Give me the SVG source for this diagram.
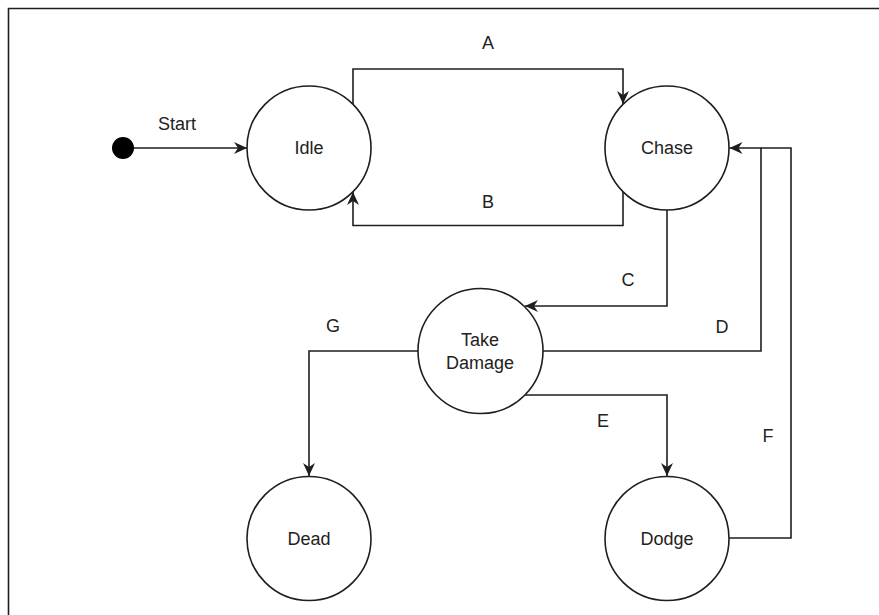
<svg xmlns="http://www.w3.org/2000/svg" width="879" height="615" viewBox="0 0 879 615">
  <style>
    .state { fill: #ffffff; stroke: #1e1e1e; stroke-width: 1.6; }
    .edge { fill: none; stroke: #1e1e1e; stroke-width: 1.6; }
    .label { font-family: "Liberation Sans", Arial, sans-serif; font-size: 18px; fill: #222222; text-anchor: middle; }
  </style>
  <defs>
    <marker id="arrow" markerUnits="userSpaceOnUse" markerWidth="14" markerHeight="12" viewBox="0 0 14 12" refX="13" refY="6" orient="auto">
      <path d="M0,0 L13,6 L0,12 L4,6 z" fill="#1e1e1e"/>
    </marker>
  </defs>

  <rect width="879" height="615" fill="#ffffff"/>
  <!-- page frame -->
  <path d="M8.5,615 V8.5 H879" fill="none" stroke="#1e1e1e" stroke-width="1.6"/>

  <g id="connectors">
    <path class="edge" d="M134,148 H247" marker-end="url(#arrow)"/>
    <path class="edge" d="M353,104 V69 H623 V104" marker-end="url(#arrow)"/>
    <path class="edge" d="M623,192 V225.5 H353 V192" marker-end="url(#arrow)"/>
    <path class="edge" d="M667,210 V306 H525" marker-end="url(#arrow)"/>
    <path class="edge" d="M543,351 H761 V148 H729.5" marker-end="url(#arrow)"/>
    <path class="edge" d="M525,395 H667 V476" marker-end="url(#arrow)"/>
    <path class="edge" d="M729,538 H791 V148 H761"/>
    <path class="edge" d="M418,351 H309 V476" marker-end="url(#arrow)"/>

    <text class="label" x="177" y="130">Start</text>
    <text class="label" x="488" y="49">A</text>
    <text class="label" x="488" y="208">B</text>
    <text class="label" x="628" y="286">C</text>
    <text class="label" x="722" y="333">D</text>
    <text class="label" x="603" y="427">E</text>
    <text class="label" x="768" y="442">F</text>
    <text class="label" x="333" y="332">G</text>
  </g>

  <g id="start">
    <circle cx="123" cy="148" r="11" fill="#000000"/>
  </g>
  <g id="idle">
    <circle class="state" cx="309" cy="148" r="62"/>
    <text class="label" x="309" y="154">Idle</text>
  </g>
  <g id="chase">
    <circle class="state" cx="667" cy="148" r="62"/>
    <text class="label" x="667" y="154">Chase</text>
  </g>
  <g id="take-damage">
    <circle class="state" cx="480.5" cy="351" r="62.5"/>
    <text class="label" x="480" y="346">Take</text>
    <text class="label" x="480" y="369">Damage</text>
  </g>
  <g id="dead">
    <circle class="state" cx="309" cy="538.5" r="62"/>
    <text class="label" x="309" y="545">Dead</text>
  </g>
  <g id="dodge">
    <circle class="state" cx="667" cy="538.5" r="62"/>
    <text class="label" x="667" y="545">Dodge</text>
  </g>
</svg>
